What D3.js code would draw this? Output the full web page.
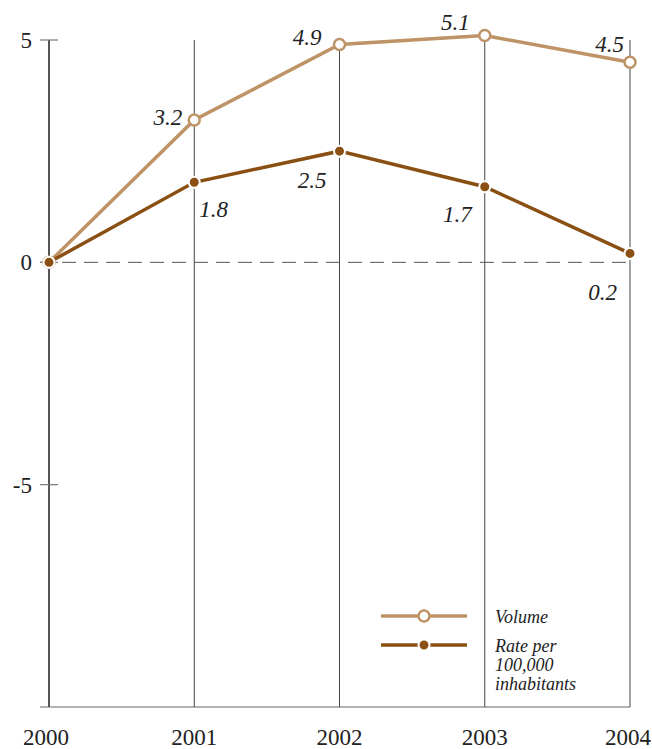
<!DOCTYPE html>
<html><head><meta charset="utf-8">
<script src="https://cdn.jsdelivr.net/npm/d3@7"></script>
<style>body{margin:0;background:#fff}svg{display:block}</style>
</head><body>
<script>
const years = ["2000","2001","2002","2003","2004"];
const volume = [0, 3.2, 4.9, 5.1, 4.5];
const rate = [0, 1.8, 2.5, 1.7, 0.2];
const volumeLabels = [null, "3.2", "4.9", "5.1", "4.5"];
const rateLabels = [null, "1.8", "2.5", "1.7", "0.2"];
const yTicks = [5, 0, -5];
const legendNames = ["Volume", ["Rate per", "100,000", "inhabitants"]];

const W = 652, H = 749;
const cVol = "#be9366", cRate = "#8a4f12";
const svg = d3.select("body").append("svg").attr("width", W).attr("height", H)
  .style("font-family", "'Liberation Serif', 'DejaVu Serif', serif");

const x = d3.scalePoint().domain(years).range([49, 630]);
const y = d3.scaleLinear().domain([-10, 5]).range([707, 40]);

// vertical gridlines
svg.selectAll("line.vg").data(years.slice(1)).join("line")
  .attr("x1", d => x(d)).attr("x2", d => x(d))
  .attr("y1", y(5)).attr("y2", y(-10))
  .attr("stroke", "#444").attr("stroke-width", 1);

// bottom line
svg.append("line").attr("x1", 40).attr("x2", x("2004")).attr("y1", y(-10)).attr("y2", y(-10))
  .attr("stroke", "#666").attr("stroke-width", 1.2);

// zero dashed line
svg.append("line").attr("x1", 40).attr("x2", x("2004")).attr("y1", y(0)).attr("y2", y(0))
  .attr("stroke", "#555").attr("stroke-width", 1).attr("stroke-dasharray", "14,8");

// y axis
svg.append("line").attr("x1", x("2000")).attr("x2", x("2000")).attr("y1", y(5)).attr("y2", y(-10))
  .attr("stroke", "#555").attr("stroke-width", 2);
svg.selectAll("line.yt").data(yTicks).join("line")
  .attr("x1", 40).attr("x2", 58).attr("y1", d => y(d)).attr("y2", d => y(d))
  .attr("stroke", "#777").attr("stroke-width", 1.2);
svg.selectAll("text.yl").data(yTicks).join("text")
  .attr("x", 32).attr("y", d => y(d) + 8).attr("text-anchor", "end")
  .attr("font-size", 23).attr("fill", "#222").text(d => d);

// x labels
svg.selectAll("text.xl").data(years).join("text")
  .attr("x", (d, i) => x(d) + (i === 0 ? -3 : (i === 4 ? -2 : 0))).attr("y", 745).attr("text-anchor", "middle")
  .attr("font-size", 23).attr("fill", "#222").text(d => d);

const line = d3.line().x((d, i) => x(years[i])).y(d => y(d));
svg.append("path").datum(volume).attr("d", line).attr("fill", "none")
  .attr("stroke", cVol).attr("stroke-width", 3.5);
svg.append("path").datum(rate).attr("d", line).attr("fill", "none")
  .attr("stroke", cRate).attr("stroke-width", 3.5);

svg.selectAll("circle.v").data(volume).join("circle")
  .attr("cx", (d, i) => x(years[i])).attr("cy", d => y(d)).attr("r", 5.5)
  .attr("fill", "#fff").attr("stroke", cVol).attr("stroke-width", 2.5);
svg.selectAll("circle.r").data(rate).join("circle")
  .attr("cx", (d, i) => x(years[i])).attr("cy", d => y(d)).attr("r", 5.5)
  .attr("fill", cRate).attr("stroke", "#fff").attr("stroke-width", 2);

// value labels
const volOff = [null, [-12, 5, "end"], [-18, 1, "end"], [-15, -6, "end"], [-6, -10, "end"]];
const volData = volume.map((v, i) => ({v, i, label: volumeLabels[i], off: volOff[i]})).filter(d => d.label);
svg.selectAll("text.vl").data(volData).join("text")
  .attr("x", d => x(years[d.i]) + d.off[0]).attr("y", d => y(d.v) + d.off[1])
  .attr("text-anchor", d => d.off[2]).attr("font-style", "italic").attr("font-size", 23).attr("fill", "#222")
  .text(d => d.label);
const rateOff = [null, [5, 35, "start"], [-13, 37, "end"], [-13, 35.5, "end"], [-13, 47, "end"]];
const rateData = rate.map((v, i) => ({v, i, label: rateLabels[i], off: rateOff[i]})).filter(d => d.label);
svg.selectAll("text.rl").data(rateData).join("text")
  .attr("x", d => x(years[d.i]) + d.off[0]).attr("y", d => y(d.v) + d.off[1])
  .attr("text-anchor", d => d.off[2]).attr("font-style", "italic").attr("font-size", 23).attr("fill", "#222")
  .text(d => d.label);

// legend
const lg = svg.append("g");
lg.append("line").attr("x1", 381).attr("x2", 467).attr("y1", 616).attr("y2", 616).attr("stroke", cVol).attr("stroke-width", 3.5);
lg.append("circle").attr("cx", 424).attr("cy", 616).attr("r", 5.5).attr("fill", "#fff").attr("stroke", cVol).attr("stroke-width", 2.5);
lg.append("line").attr("x1", 381).attr("x2", 467).attr("y1", 645).attr("y2", 645).attr("stroke", cRate).attr("stroke-width", 3.5);
lg.append("circle").attr("cx", 424).attr("cy", 645).attr("r", 5.5).attr("fill", cRate).attr("stroke", "#fff").attr("stroke-width", 2);
lg.append("text").attr("x", 495).attr("y", 623).attr("font-style", "italic").attr("font-size", 18).attr("fill", "#222").text(legendNames[0]);
const t2 = lg.append("text").attr("x", 495).attr("y", 652).attr("font-style", "italic").attr("font-size", 18).attr("fill", "#222");
legendNames[1].forEach((s, i) => t2.append("tspan").attr("x", 495).attr("dy", i ? 19 : 0).text(s));
</script>
</body></html>
